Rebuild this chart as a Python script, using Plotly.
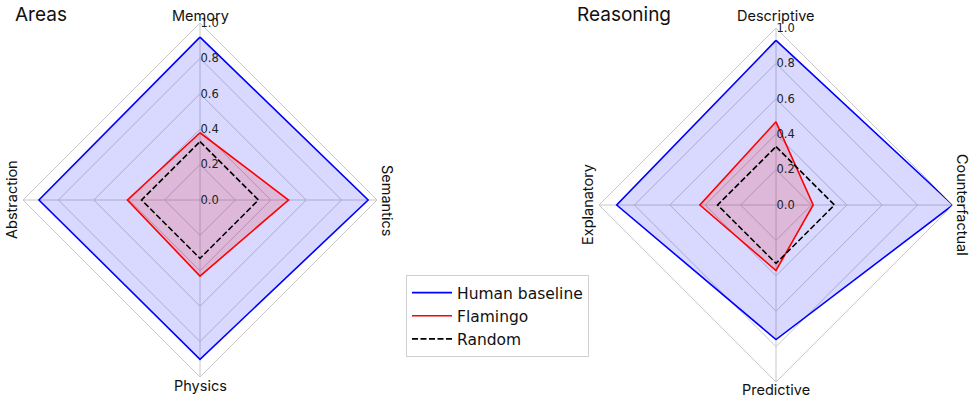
import plotly.graph_objects as go

# Scores per category (0..1)
areas = ["Memory", "Semantics", "Physics", "Abstraction"]
areas_human = [0.92, 0.95, 0.90, 0.91]
areas_flamingo = [0.38, 0.50, 0.43, 0.41]
areas_random = [0.33, 0.33, 0.33, 0.33]

reasoning = ["Descriptive", "Counterfactual", "Predictive", "Explanatory"]
reasoning_human = [0.93, 1.00, 0.76, 0.90]
reasoning_flamingo = [0.47, 0.21, 0.37, 0.43]
reasoning_random = [0.33, 0.33, 0.33, 0.33]

radial_ticks = [0.0, 0.2, 0.4, 0.6, 0.8, 1.0]

W, H = 971, 398
LABEL_FONT = "Inter, Noto Sans, sans-serif"
TICK_FONT = "DejaVu Sans, sans-serif"
GRID = "#c8c8c8"

# Panel geometry in pixels: centre x, centre y, radius
panels = [
    dict(name="polar", cx=200, cy=200, r=177, title="Areas", title_x=13,
         cats=areas, human=areas_human, flamingo=areas_flamingo, rand=areas_random),
    dict(name="polar2", cx=776, cy=205, r=177, title="Reasoning", title_x=575,
         cats=reasoning, human=reasoning_human, flamingo=reasoning_flamingo, rand=reasoning_random),
]


def closed(values):
    return list(values) + [values[0]]


series = [
    ("Human baseline", "human", "#0000ff", "rgba(0,0,255,0.15)", "solid"),
    ("Flamingo", "flamingo", "#ff0000", "rgba(255,0,0,0.15)", "solid"),
    ("Random", "rand", "#000000", None, "6px,2.5px"),
]

fig = go.Figure()
annotations = []

for i, p in enumerate(panels):
    theta = closed(p["cats"])
    for label, key, color, fill, dash in series:
        r = closed(p[key])
        if fill:
            fig.add_trace(go.Scatterpolar(
                r=r, theta=theta, subplot=p["name"], mode="lines",
                fill="toself", fillcolor=fill, line=dict(width=0, color=fill),
                showlegend=False, hoverinfo="skip"))
        fig.add_trace(go.Scatterpolar(
            r=r, theta=theta, subplot=p["name"], mode="lines", name=label,
            line=dict(color=color, width=1.6, dash=dash),
            showlegend=(i == 0), legendgroup=label))

    cx, cy, rad = p["cx"], p["cy"], p["r"]
    domain = dict(x=[(cx - rad) / W, (cx + rad) / W],
                  y=[1 - (cy + rad) / H, 1 - (cy - rad) / H])
    fig.update_layout({p["name"]: dict(
        domain=domain,
        bgcolor="white",
        gridshape="linear",
        radialaxis=dict(
            range=[0, 1], tickvals=radial_ticks, tickformat=".1f",
            angle=90, tickangle=90, side="clockwise", showline=False, ticks="",
            gridcolor=GRID, gridwidth=1,
            tickfont=dict(family=TICK_FONT, size=11.5, color="#222222")),
        angularaxis=dict(
            categoryorder="array", categoryarray=p["cats"],
            rotation=90, direction="clockwise", showticklabels=False,
            ticks="", gridcolor=GRID, gridwidth=1,
            showline=True, linecolor=GRID, linewidth=1),
    )})

    # Panel title
    annotations.append(dict(
        text=p["title"], x=p["title_x"] / W, y=1 - 15 / H, xref="paper", yref="paper",
        xanchor="left", yanchor="middle", showarrow=False,
        font=dict(family=LABEL_FONT, size=19, color="#111111")))

    # Category labels around the diamond (side labels rotated)
    top, right, bottom, left = p["cats"]
    lab_font = dict(family=LABEL_FONT, size=14.5, color="#111111")
    for text, px, py, ang in [
        (top, cx, 16, 0),
        (bottom, cx, min(cy + rad + 8, H - 9), 0),
        (left, cx - rad - 11, cy, -90),
        (right, min(cx + rad + 10, W - 9), cy, 90),
    ]:
        annotations.append(dict(
            text=text, x=px / W, y=1 - py / H, xref="paper", yref="paper",
            xanchor="center", yanchor="middle", textangle=ang, showarrow=False,
            font=lab_font))

fig.update_layout(
    width=W, height=H, autosize=False,
    margin=dict(l=0, r=0, t=0, b=0),
    paper_bgcolor="white", plot_bgcolor="white",
    annotations=annotations,
    legend=dict(
        x=406 / W, y=1 - 275 / H, xanchor="left", yanchor="top",
        bordercolor="#d0d0d0", borderwidth=1, bgcolor="white",
        itemwidth=40,
        font=dict(family=TICK_FONT, size=15.5, color="#111111"),
        traceorder="normal"),
)

fig.write_html("out.html")
